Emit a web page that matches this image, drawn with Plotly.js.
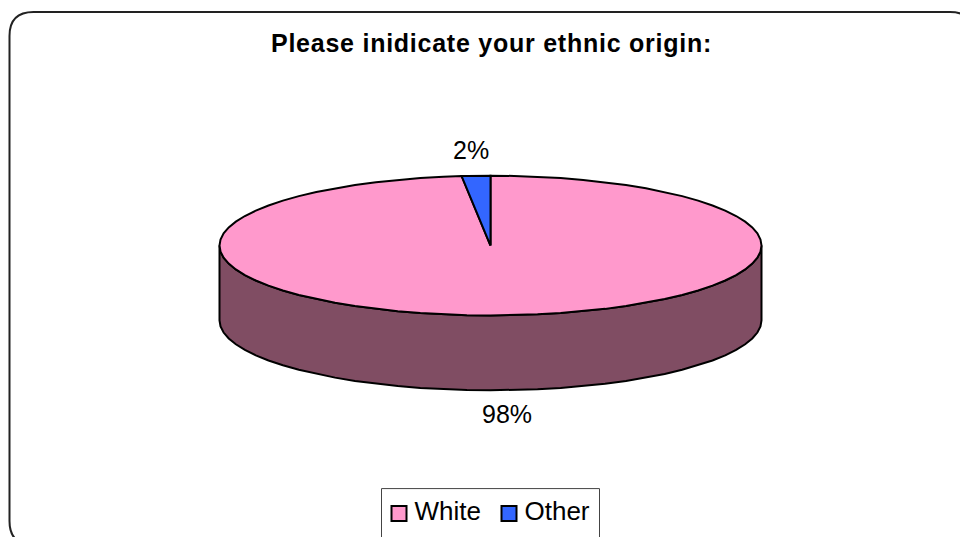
<!DOCTYPE html>
<html><head><meta charset="utf-8">
<script src="https://cdn.plot.ly/plotly-3.0.1.min.js"></script>
<style>html,body{margin:0;padding:0;background:#fff;overflow:hidden}#c{width:960px;height:537px}
.gtitle{letter-spacing:.75px}</style>
</head><body><div id="c"></div>
<script>
const categories = ['White', 'Other'];
const shares = [98.3, 1.7];
const sliceColors = ['#FF99CC', '#3366FF'];
const wallColor = '#804D63';
const chartTitle = 'Please inidicate your ethnic origin:';

const W = 960, H = 537;
const cx = 490.5, cy = 246, rx = 271, ry = 70, depth = 75;
const xRange = [-cx / rx, (W - cx) / rx];
const yRange = [-(H - cy) / ry, cy / ry];
const drop = depth / ry;
const total = shares.reduce((a, b) => a + b, 0);

function arc(fromDeg, toDeg, yShift) {
  const step = 5, dir = toDeg >= fromDeg ? 1 : -1;
  const angles = [fromDeg];
  let g = dir > 0 ? (Math.floor(fromDeg / step) + 1) * step : (Math.ceil(fromDeg / step) - 1) * step;
  while (dir * (toDeg - g) > 1e-6) { angles.push(g); g += dir * step; }
  angles.push(toDeg);
  return [angles.map(d => Math.sin(d * Math.PI / 180)), angles.map(d => Math.cos(d * Math.PI / 180) - yShift)];
}

const traces = [];
const front = arc(90, 270, 0), frontLow = arc(270, 90, drop);
traces.push({
  type: 'scatter', mode: 'lines', x: front[0].concat(frontLow[0], [front[0][0]]),
  y: front[1].concat(frontLow[1], [front[1][0]]), fill: 'toself', fillcolor: wallColor,
  line: {color: '#000', width: 2}, showlegend: false, hoverinfo: 'skip'
});
let start = 0;
shares.forEach((s, i) => {
  const sweep = s / total * 360;
  const a = arc(start, start + sweep, 0);
  traces.push({
    type: 'scatter', mode: 'lines', x: [0].concat(a[0], [0]), y: [0].concat(a[1], [0]),
    fill: 'toself', fillcolor: sliceColors[i], line: {color: '#000', width: 2},
    showlegend: false, hoverinfo: 'skip'
  });
  start += sweep;
});
categories.forEach((c, i) => traces.push({
  type: 'scatter', mode: 'markers', name: c, x: [null], y: [null],
  marker: {symbol: 'square', size: 15, color: sliceColors[i], line: {color: '#000', width: 2}}
}));

const px = v => v / W, py = v => 1 - v / H;
const frameL = 9.5, frameT = 12, frameR = 974, frameB = 546, r = 24;
const framePath = 'M' + px(frameL) + ',' + py(frameT + r) +
  'Q' + px(frameL) + ',' + py(frameT) + ' ' + px(frameL + r) + ',' + py(frameT) +
  'L' + px(frameR - r) + ',' + py(frameT) +
  'Q' + px(frameR) + ',' + py(frameT) + ' ' + px(frameR) + ',' + py(frameT + r) +
  'L' + px(frameR) + ',' + py(frameB - r) +
  'Q' + px(frameR) + ',' + py(frameB) + ' ' + px(frameR - r) + ',' + py(frameB) +
  'L' + px(frameL + r) + ',' + py(frameB) +
  'Q' + px(frameL) + ',' + py(frameB) + ' ' + px(frameL) + ',' + py(frameB - r) + 'Z';

const font = 'Liberation Sans, Arial, sans-serif';
const layout = {
  width: W, height: H, margin: {l: 0, r: 0, t: 0, b: 0, pad: 0},
  paper_bgcolor: '#fff', plot_bgcolor: 'rgba(0,0,0,0)',
  title: {text: '<b>' + chartTitle + '</b>', x: 491.5 / W, xanchor: 'center', y: 1 - 43 / H, yanchor: 'middle',
    font: {family: font, size: 25, color: '#000'}},
  xaxis: {range: xRange, visible: false, fixedrange: true},
  yaxis: {range: yRange, visible: false, fixedrange: true},
  showlegend: true,
  legend: {orientation: 'h', x: 379 / W, y: 1 - 491 / H, xanchor: 'left', yanchor: 'top',
    font: {family: font, size: 26, color: '#000'}, bgcolor: 'rgba(0,0,0,0)', borderwidth: 0,
    itemwidth: 30, entrywidth: 65, entrywidthmode: 'pixels', itemclick: false, itemdoubleclick: false},
  shapes: [
    {type: 'path', xref: 'paper', yref: 'paper', path: framePath, line: {color: '#222', width: 2}, layer: 'below'},
    {type: 'rect', xref: 'paper', yref: 'paper', x0: px(381.5), x1: px(599.5), y0: py(489.5), y1: py(560),
      line: {color: '#444', width: 1}, layer: 'below'}
  ],
  annotations: [
    {x: (471 - cx) / rx, y: (cy - 150.5) / ry, text: Math.round(shares[1]) + '%'},
    {x: (507 - cx) / rx, y: (cy - 415) / ry, text: Math.round(shares[0]) + '%'}
  ].map(a => Object.assign(a, {xref: 'x', yref: 'y', showarrow: false, xanchor: 'center', yanchor: 'middle',
    font: {family: font, size: 25, color: '#000'}}))
};
Plotly.newPlot('c', traces, layout, {displayModeBar: false, staticPlot: true}).then(() => {
  document.querySelectorAll('.legendtext').forEach(t => t.setAttribute('transform', 'translate(-4.5,-4)'));
});
</script></body></html>
